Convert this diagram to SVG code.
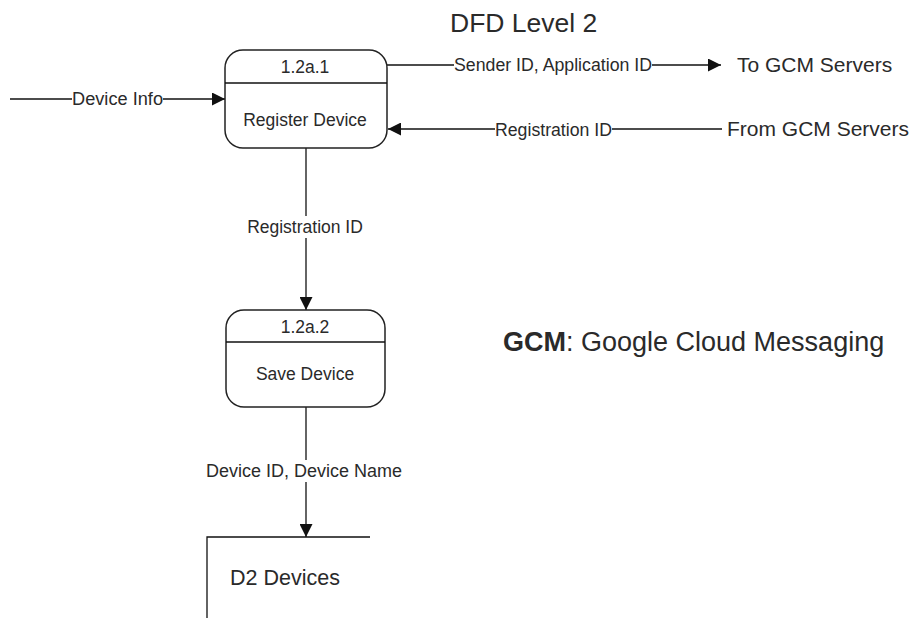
<svg xmlns="http://www.w3.org/2000/svg" width="912" height="618" viewBox="0 0 912 618">
<style>
text{font-family:"Liberation Sans",Arial,sans-serif;fill:#2a2a2a}
.lbl{font-size:17.5px}
.ext{font-size:21px}
.box{fill:#fff;stroke:#222;stroke-width:1.5}
.ln{stroke:#111;stroke-width:1.3;fill:none}
</style>
<defs>
<marker id="ah" viewBox="0 0 10 10" refX="10" refY="5" markerWidth="22" markerHeight="13" markerUnits="userSpaceOnUse" orient="auto">
<path d="M0,0 L10,5 L0,10 z" fill="#111"/>
</marker>
</defs>
<rect width="912" height="618" fill="#fff"/>
<text x="450" y="32" font-size="26.5">DFD Level 2</text>
<g id="connectors">
<line class="ln" x1="10" y1="99" x2="225" y2="99" marker-end="url(#ah)"/>
<line class="ln" x1="387" y1="65" x2="721" y2="65" marker-end="url(#ah)"/>
<line class="ln" x1="722" y1="129" x2="388" y2="129" marker-end="url(#ah)"/>
<line class="ln" x1="306" y1="148" x2="306" y2="310" marker-end="url(#ah)"/>
<line class="ln" x1="306" y1="407" x2="306" y2="537" marker-end="url(#ah)"/>
<rect x="72" y="90" width="91" height="18" fill="#fff"/>
<text class="lbl" x="117.5" y="105" text-anchor="middle" textLength="91" lengthAdjust="spacingAndGlyphs">Device Info</text>
<rect x="454" y="56" width="198" height="18" fill="#fff"/>
<text class="lbl" x="553" y="71" text-anchor="middle" textLength="198" lengthAdjust="spacingAndGlyphs">Sender ID, Application ID</text>
<rect x="495" y="120" width="117" height="18" fill="#fff"/>
<text class="lbl" x="553.5" y="136" text-anchor="middle" textLength="117" lengthAdjust="spacingAndGlyphs">Registration ID</text>
<rect x="245" y="216" width="120" height="22" fill="#fff"/>
<text class="lbl" x="305" y="233" text-anchor="middle">Registration ID</text>
<rect x="205" y="460" width="198" height="22" fill="#fff"/>
<text class="lbl" x="304" y="477" text-anchor="middle" textLength="196" lengthAdjust="spacingAndGlyphs">Device ID, Device Name</text>
</g>
<g id="p1">
<rect class="box" x="225" y="50" width="162" height="98" rx="18"/>
<line class="ln" x1="225" y1="83" x2="387" y2="83"/>
<text class="lbl" x="305" y="73" text-anchor="middle">1.2a.1</text>
<text class="lbl" x="305" y="126" text-anchor="middle">Register Device</text>
</g>
<g id="p2">
<rect class="box" x="226" y="310" width="159" height="97" rx="18"/>
<line class="ln" x1="226" y1="342" x2="385" y2="342"/>
<text class="lbl" x="305" y="333" text-anchor="middle">1.2a.2</text>
<text class="lbl" x="305" y="380" text-anchor="middle">Save Device</text>
</g>
<g id="d2">
<path class="ln" d="M370,537 H207 V618"/>
<text x="230" y="585" font-size="21.5">D2 Devices</text>
</g>
<g id="to-gcm"><text class="ext" x="737" y="72">To GCM Servers</text></g>
<g id="from-gcm"><text class="ext" x="727" y="136">From GCM Servers</text></g>
<text x="503" y="351" font-size="27"><tspan font-weight="bold">GCM</tspan>: Google Cloud Messaging</text>
</svg>
